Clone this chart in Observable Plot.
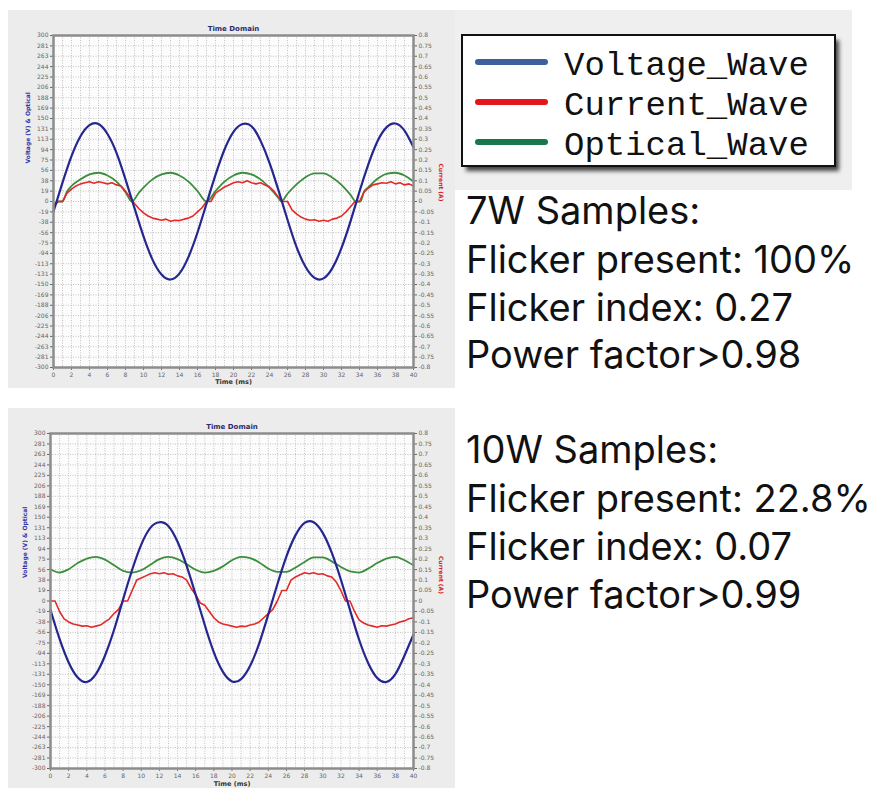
<!DOCTYPE html>
<html>
<head>
<meta charset="utf-8">
<script src="https://cdn.jsdelivr.net/npm/d3@7"></script>
<script src="https://cdn.jsdelivr.net/npm/@observablehq/plot@0.6"></script>
<style>
  html,body{margin:0;padding:0;background:#fff;}
  body{width:870px;height:788px;position:relative;overflow:hidden;}
  .panel{position:absolute;background:#ececec;}
  .panel svg{display:block;}
  #overlay{position:absolute;left:0;top:0;}
</style>
</head>
<body>
<div id="legendArea" style="position:absolute;left:453px;top:10px;width:399px;height:180px;background:#efefef"></div>
<div id="p7" class="panel" style="left:8px;top:10px;width:447px;height:378px"></div>
<div id="p10" class="panel" style="left:8px;top:408px;width:447px;height:380px"></div>
<svg id="overlay" width="870" height="788"></svg>
<script>
// ---------- data ----------
const timeCoarse = [0,1,2,3,4,5,6,7,8,9,10,11,12,13,14,15,16,17,18,19,20,21,22,23,24,25,26,27,28,29,30,31,32,33,34,35,36,37,38,39,40];
const timeFine = [0,0.5,1,1.5,2,2.5,3,3.5,4,4.5,5,5.5,6,6.5,7,7.5,8,8.5,9,9.5,10,10.5,11,11.5,12,12.5,13,13.5,14,14.5,15,15.5,16,16.5,17,17.5,18,18.5,19,19.5,20,20.5,21,21.5,22,22.5,23,23.5,24,24.5,25,25.5,26,26.5,27,27.5,28,28.5,29,29.5,30,30.5,31,31.5,32,32.5,33,33.5,34,34.5,35,35.5,36,36.5,37,37.5,38,38.5,39,39.5,40];
const xTicks = [0,2,4,6,8,10,12,14,16,18,20,22,24,26,28,30,32,34,36,38,40];
const rightTicks = [0.8,0.75,0.7,0.65,0.6,0.55,0.5,0.45,0.4,0.35,0.3,0.25,0.2,0.15,0.1,0.05,0,-0.05,-0.1,-0.15,-0.2,-0.25,-0.3,-0.35,-0.4,-0.45,-0.5,-0.55,-0.6,-0.65,-0.7,-0.75,-0.8];
const rightTickLabels = ["0.8","0.75","0.7","0.65","0.6","0.55","0.5","0.45","0.4","0.35","0.3","0.25","0.2","0.15","0.1","0.05","0","-0.05","-0.1","-0.15","-0.2","-0.25","-0.3","-0.35","-0.4","-0.45","-0.5","-0.55","-0.6","-0.65","-0.7","-0.75","-0.8"];
const leftTickLabels = ["300","281","263","244","225","206","188","169","150","131","113","94","75","56","38","19","0","-19","-38","-56","-75","-94","-113","-131","-150","-169","-188","-206","-225","-244","-263","-281","-300"];
const leftMax = 300, rightMax = 0.8;

// 7W samples
const voltage7 = [-18,34,82,118,138,140,122,88,40,-12,-63,-105,-132,-141,-130,-100,-56,-4,48,94,126,140,136,110,70,20,-33,-82,-118,-138,-139,-120,-84,-36,18,68,109,134,141,128,98];
const opticalTime7 = [0,0.5,1,1.5,2,3,4,5,6,7,8,8.7,9.5,10,11,12,13,14,15,16,17,18,19,20,21,22,23,24,25,25.3,26,27,28,29,30,31,32,33,33.6,34.1,34.5,35,36,37,38,39,40];
const optical7 = [-8,0,0,18,28,40,49,52,47,36,17,0,16,25,40,49,52,47,36,19,0,19,36,47,52,49,40,25,6,0,14,31,44,51,51,43,30,12,0,0,18,26,41,50,52,47,36];
const current7 = [
  -0.03,0,0,0.04,0.06,0.075,0.085,0.09,0.095,0.088,
  0.095,0.09,0.085,0.09,0.08,0.075,0.05,0.02,-0.01,-0.035,
  -0.055,-0.07,-0.08,-0.085,-0.09,-0.085,-0.095,-0.09,-0.092,-0.085,
  -0.08,-0.07,-0.05,-0.03,0,0,0.04,0.055,0.07,0.08,
  0.09,0.095,0.09,0.1,0.09,0.085,0.09,0.08,0.07,0.05,
  0.02,0,0,-0.04,-0.06,-0.075,-0.085,-0.09,-0.088,-0.095,
  -0.09,-0.095,-0.085,-0.08,-0.07,-0.05,-0.025,0,0,0.045,
  0.065,0.08,0.085,0.09,0.088,0.095,0.085,0.09,0.08,0.085,
  0.075];

// 10W samples
const voltage10 = [-16,-68,-110,-137,-145,-131,-98,-52,3,56,101,131,141,134,106,63,11,-43,-92,-127,-144,-140,-116,-76,-24,30,80,118,140,141,122,86,38,-16,-69,-111,-138,-145,-131,-98,-60];
const optical10 = [57,51,57,68,76,79,74,64,54,51,55,65,75,79,75,66,56,51,54,62,73,79,77,69,58,52,52,60,70,78,78,71,61,53,51,58,68,76,79,73,64];
const current10 = [
  0,0,-0.05,-0.085,-0.1,-0.11,-0.115,-0.12,-0.118,-0.125,
  -0.12,-0.115,-0.1,-0.085,-0.06,-0.04,0,0,0.05,0.1,
  0.11,0.12,0.13,0.135,0.13,0.135,0.128,0.13,0.12,0.115,
  0.1,0.06,0.03,-0.01,-0.02,-0.05,-0.08,-0.1,-0.11,-0.115,
  -0.12,-0.125,-0.12,-0.122,-0.115,-0.11,-0.1,-0.08,-0.06,-0.04,
  0,0.05,0.05,0.1,0.115,0.125,0.135,0.13,0.135,0.128,
  0.13,0.12,0.115,0.09,0.05,0,0,-0.05,-0.09,-0.105,
  -0.115,-0.12,-0.125,-0.118,-0.12,-0.115,-0.11,-0.1,-0.095,-0.085,
  -0.08];

// legend & notes
const seriesNames = ["Voltage_Wave","Current_Wave","Optical_Wave"];
const legendColors = ["#3f5f9c","#e3161e","#18774b"];
const notes7 = ["7W Samples:","Flicker present: 100%","Flicker index: 0.27","Power factor>0.98"];
const notes10 = ["10W Samples:","Flicker present: 22.8%","Flicker index: 0.07","Power factor>0.99"];

// ---------- charts ----------
const k = leftMax / rightMax;
const yTickPos = rightTicks.map(v => v * k);
const leftMap = new Map(yTickPos.map((p, i) => [p, leftTickLabels[i]]));
const rightMap = new Map(yTickPos.map((p, i) => [p, rightTickLabels[i]]));

function chart(o) {
  const vd = timeCoarse.map((t, i) => ({t, y: o.voltage[i]}));
  const od = o.opticalTime.map((t, i) => ({t, y: o.optical[i]}));
  const cd = timeFine.map((t, i) => ({t, y: o.current[i] * k}));
  return Plot.plot({
    width: 447, height: o.height,
    marginLeft: o.ml, marginRight: 42, marginTop: 25, marginBottom: o.mb,
    style: {background: "transparent", fontFamily: "'DejaVu Sans', sans-serif", fontSize: "6px", color: "#666", overflow: "visible"},
    x: {domain: [0, 40]},
    y: {domain: [-leftMax, leftMax]},
    marks: [
      Plot.frame({fill: "#fcfcfc"}),
      Plot.ruleX(timeCoarse, {stroke: "#c2c2c2", strokeDasharray: "1,1.5"}),
      Plot.ruleY(yTickPos, {stroke: "#c2c2c2", strokeDasharray: "1,1.5"}),
      Plot.axisX(xTicks, {tickSize: 3, tickPadding: 2, fontSize: 6, label: null, stroke: "#777"}),
      Plot.axisY(yTickPos, {anchor: "left", tickSize: 3, tickPadding: 2, fontSize: 6, label: null, tickFormat: d => leftMap.get(d)}),
      Plot.axisY(yTickPos, {anchor: "right", tickSize: 3, tickPadding: 2, fontSize: 6, label: null, tickFormat: d => rightMap.get(d)}),
      Plot.line(od, {x: "t", y: "y", stroke: "#3a8e3c", strokeWidth: 1.8, curve: "monotone-x"}),
      Plot.line(cd, {x: "t", y: "y", stroke: "#e32a2a", strokeWidth: 1.6}),
      Plot.line(vd, {x: "t", y: "y", stroke: "#26268f", strokeWidth: 2.2, curve: "natural"}),
      Plot.frame({stroke: "#8c8c8c", strokeWidth: 2.5}),
      Plot.text(["Time Domain"], {text: d => d, frameAnchor: "top", dy: -9, fontSize: 7, fontWeight: "bold", fill: "#2d2d6e"}),
      Plot.text(["Time (ms)"], {text: d => d, frameAnchor: "bottom", dy: o.xlabDy, fontSize: 6.5, fontWeight: "bold", fill: "#333"}),
      Plot.text(["Voltage (V) & Optical"], {text: d => d, frameAnchor: "left", dx: -25, dy: o.ylabDy, rotate: -90, fontSize: 6, fontWeight: "bold", fill: "#3434a8"}),
      Plot.text(["Current (A)"], {text: d => d, frameAnchor: "right", dx: 27, dy: o.rlabDy, rotate: 90, fontSize: 6, fontWeight: "bold", fill: "#d82020"})
    ]
  });
}

document.getElementById("p7").append(chart({
  voltage: voltage7, opticalTime: opticalTime7, optical: optical7, current: current7,
  height: 378, ml: 45, mb: 21, xlabDy: 16, ylabDy: -38, rlabDy: 0
}));
document.getElementById("p10").append(chart({
  voltage: voltage10, opticalTime: timeCoarse, optical: optical10, current: current10,
  height: 380, ml: 42, mb: 20, xlabDy: 17, ylabDy: -23, rlabDy: -7
}));

// ---------- legend and notes ----------
const ov = d3.select("#overlay");
const defs = ov.append("defs");
defs.append("filter").attr("id", "blur").append("feGaussianBlur").attr("stdDeviation", 2);
ov.append("rect").attr("x", 466).attr("y", 40).attr("width", 373).attr("height", 131)
  .attr("fill", "#444").attr("filter", "url(#blur)");
ov.append("rect").attr("x", 462).attr("y", 35).attr("width", 373).attr("height", 131)
  .attr("fill", "#fff").attr("stroke", "#111").attr("stroke-width", 2);
seriesNames.forEach((name, i) => {
  const cy = 62 + i * 40;
  ov.append("line").attr("x1", 478).attr("x2", 545).attr("y1", cy).attr("y2", cy)
    .attr("stroke", legendColors[i]).attr("stroke-width", 6).attr("stroke-linecap", "round");
  ov.append("text").attr("x", 564).attr("y", cy + 13).text(name)
    .attr("font-family", "'Liberation Mono', monospace").attr("font-size", 34).attr("fill", "#111");
});
const noteStyle = s => s.attr("font-family", "Inter, sans-serif").attr("font-size", 38).attr("fill", "#111");
const base7 = [224, 273, 321, 368];
const base10 = [463, 512, 560, 608];
notes7.forEach((t, i) => noteStyle(ov.append("text").attr("x", 466).attr("y", base7[i]).text(t)));
notes10.forEach((t, i) => noteStyle(ov.append("text").attr("x", 466).attr("y", base10[i]).text(t)));
</script>
</body>
</html>
